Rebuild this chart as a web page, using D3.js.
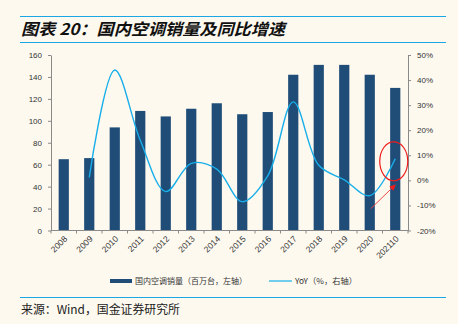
<!DOCTYPE html>
<html>
<head>
<meta charset='utf-8'>
<title>国内空调销量及同比增速</title>
<script src='https://d3js.org/d3.v7.min.js'></script>
<style>
  body { margin: 0; background: #fdf9ef; }
  svg { display: block; }
</style>
</head>
<body>
<div id='chart'></div>
<script>
// 年份与数据
const years = ['2008','2009','2010','2011','2012','2013','2014','2015','2016','2017','2018','2019','2020','202110'];
const sales = [65, 66, 94, 109, 104, 111, 116, 106, 108, 142, 151, 151, 142, 130];   // 百万台
const yoy   = [null, 1.2, 44, 16, -4.5, 6.8, 4.5, -8.5, 1.8, 31.3, 6, 0.2, -6.1, 8.6]; // %
const leftTicks  = [0, 20, 40, 60, 80, 100, 120, 140, 160];
const rightTicks = [-20, -10, 0, 10, 20, 30, 40, 50];

const W = 458, H = 324;
const margin = {top: 55, right: 50, bottom: 93.5, left: 51};
const w = W - margin.left - margin.right;
const h = H - margin.top - margin.bottom;

const svg = d3.select('#chart').append('svg')
    .attr('width', W).attr('height', H)
    .style('background', '#fdf9ef');

// 标题与上下分隔线
[16.5, 42.5, 297.5].forEach(y => {
  svg.append('line').attr('x1', 20).attr('x2', 446).attr('y1', y).attr('y2', y)
     .attr('stroke', '#1ba6e6').attr('stroke-width', 1.2);
});
svg.append('text')
   .attr('x', 21).attr('y', 35)
   .attr('font-family', '"Noto Sans CJK SC", sans-serif')
   .attr('font-size', 16).attr('font-weight', 'bold').attr('font-style', 'italic')
   .attr('fill', '#111')
   .attr('textLength', 264).attr('lengthAdjust', 'spacingAndGlyphs')
   .text('图表 20：国内空调销量及同比增速');

svg.append('text')
   .attr('x', 21).attr('y', 314)
   .attr('font-family', '"Noto Sans CJK SC", sans-serif')
   .attr('font-size', 12).attr('fill', '#222')
   .attr('textLength', 159).attr('lengthAdjust', 'spacingAndGlyphs')
   .text('来源：Wind，国金证券研究所');

const g = svg.append('g').attr('transform', `translate(${margin.left},${margin.top})`);

// 比例尺
const x = d3.scaleBand().domain(years).range([0, w]).paddingInner(0.6).paddingOuter(0.3);
const yL = d3.scaleLinear().domain([0, 160]).range([h, 0]);
const yR = d3.scaleLinear().domain([-20, 50]).range([h, 0]);
const cx = d => x(d) + x.bandwidth() / 2;

// 柱子
g.selectAll('rect.bar')
  .data(years.map((d, i) => ({year: d, v: sales[i]})))
  .join('rect')
    .attr('class', 'bar')
    .attr('x', d => x(d.year))
    .attr('y', d => yL(d.v))
    .attr('width', x.bandwidth())
    .attr('height', d => h - yL(d.v))
    .attr('fill', '#1f4d78');

// 同比曲线
const pts = years.map((d, i) => ({year: d, v: yoy[i]})).filter(d => d.v !== null);
const line = d3.line()
    .x(d => cx(d.year))
    .y(d => yR(d.v))
    .curve(d3.curveCatmullRom.alpha(0.5));
g.append('path')
  .datum(pts)
  .attr('d', line)
  .attr('fill', 'none')
  .attr('stroke', '#17aeea')
  .attr('stroke-width', 1.4);

// 坐标轴
const axisColor = '#8a8a8a';
const styleAxis = sel => {
  sel.selectAll('path, line').attr('stroke', axisColor);
  sel.selectAll('text')
     .attr('font-family', '"Liberation Sans", Arial, sans-serif')
     .attr('font-size', 8).attr('fill', '#333');
};

g.append('g')
  .call(d3.axisLeft(yL).tickValues(leftTicks).tickSize(3).tickSizeOuter(0).tickPadding(6))
  .call(styleAxis);

g.append('g')
  .attr('transform', `translate(${w},0)`)
  .call(d3.axisRight(yR).tickValues(rightTicks).tickSize(3).tickSizeOuter(0).tickPadding(6)
          .tickFormat(d => d + '%'))
  .call(styleAxis);

// X 轴：刻度位于类别之间
const xg = g.append('g').attr('transform', `translate(0,${h})`);
xg.append('line').attr('x1', 0).attr('x2', w).attr('stroke', axisColor);
const step = x.step();
const x0 = x(years[0]) - x.paddingOuter() * step;
xg.selectAll('line.tick')
  .data(d3.range(years.length + 1))
  .join('line')
    .attr('class', 'tick')
    .attr('x1', i => x0 + i * step).attr('x2', i => x0 + i * step)
    .attr('y1', 0).attr('y2', 3)
    .attr('stroke', axisColor);
xg.selectAll('text')
  .data(years)
  .join('text')
    .attr('transform', d => `translate(${cx(d) + 4},${9}) rotate(-45)`)
    .attr('text-anchor', 'end')
    .attr('font-family', '"Liberation Sans", Arial, sans-serif')
    .attr('font-size', 8.5).attr('fill', '#333')
    .text(d => d);

// 最新一期标注：红圈与箭头
const last = pts[pts.length - 1];
const ex = cx(last.year) - 1.5, ey = yR(last.v) + 2.5;
g.append('ellipse')
  .attr('cx', ex).attr('cy', ey).attr('rx', 14).attr('ry', 19.5)
  .attr('fill', 'none').attr('stroke', '#ee1c1c').attr('stroke-width', 1.2);

svg.append('defs').append('marker')
  .attr('id', 'arrow').attr('viewBox', '0 0 10 10')
  .attr('refX', 9).attr('refY', 5)
  .attr('markerWidth', 6).attr('markerHeight', 6)
  .attr('markerUnits', 'userSpaceOnUse')
  .attr('orient', 'auto')
  .append('path').attr('d', 'M0,0 L10,5 L0,10 Z').attr('fill', '#f01c1c');
g.append('line')
  .attr('x1', ex - 23).attr('y1', yR(-11.3))
  .attr('x2', ex + 1.5).attr('y2', yR(-1.8))
  .attr('stroke', '#f04848').attr('stroke-width', 1)
  .attr('marker-end', 'url(#arrow)');

// 图例
const lg = svg.append('g').attr('font-family', '"Noto Sans CJK SC", sans-serif')
  .attr('font-size', 8).attr('fill', '#333');
lg.append('rect').attr('x', 110).attr('y', 279).attr('width', 22).attr('height', 4).attr('fill', '#1f4d78');
lg.append('text').attr('x', 135).attr('y', 284)
  .attr('textLength', 112).attr('lengthAdjust', 'spacingAndGlyphs')
  .text('国内空调销量（百万台，左轴）');
lg.append('line').attr('x1', 269).attr('x2', 292).attr('y1', 281).attr('y2', 281)
  .attr('stroke', '#17aeea').attr('stroke-width', 1.2);
lg.append('text').attr('x', 295).attr('y', 284)
  .attr('textLength', 62).attr('lengthAdjust', 'spacingAndGlyphs')
  .text('YoY（%，右轴）');
</script>
</body>
</html>
